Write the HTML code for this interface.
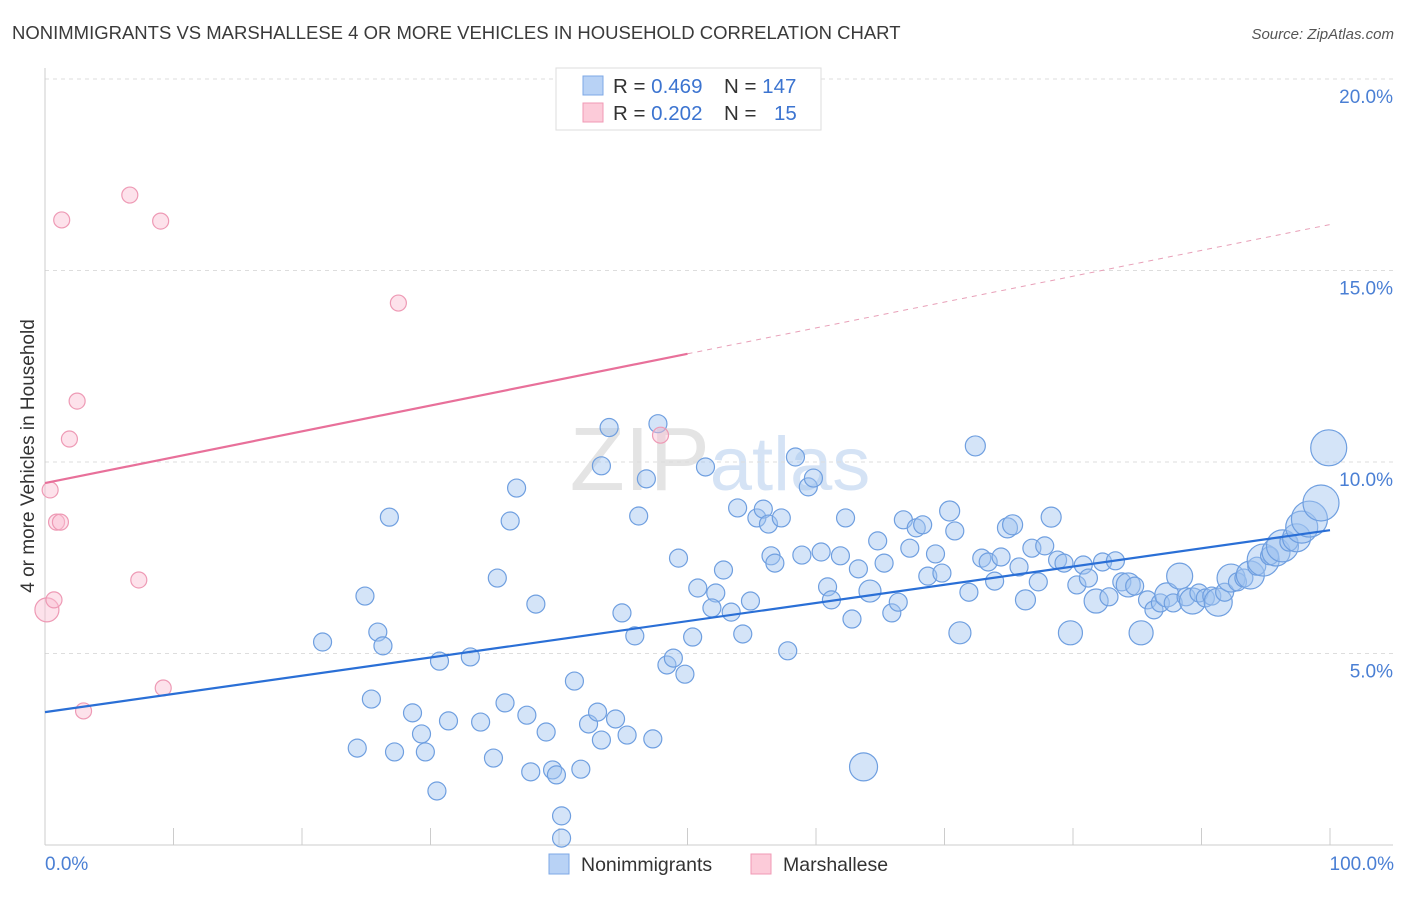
<!DOCTYPE html>
<html><head><meta charset="utf-8"><style>
body{margin:0;background:#fff;font-family:"Liberation Sans",sans-serif}
svg text{font-family:"Liberation Sans",sans-serif}
</style></head><body>
<svg id="chart" width="1406" height="892" viewBox="0 0 1406 892">
<text x="12" y="39" font-size="18.5" fill="#3a3a3a">NONIMMIGRANTS VS MARSHALLESE 4 OR MORE VEHICLES IN HOUSEHOLD CORRELATION CHART</text>
<text x="1394" y="39" font-size="15" fill="#555" font-style="italic" text-anchor="end">Source: ZipAtlas.com</text>
<text x="720" y="490" font-size="90" fill="#e4e4e4" text-anchor="middle" font-family="Liberation Serif">ZIP<tspan fill="#d5e3f5" font-family="Liberation Sans" font-size="76">atlas</tspan></text>
<g id="grid"></g><g id="axes"></g><g id="marks"></g>
<text transform="translate(34,456) rotate(-90)" font-size="19" fill="#333" text-anchor="middle">4 or more Vehicles in Household</text>
<text x="45" y="870" font-size="19" fill="#4a7fd4">0.0%</text>
<text x="1394" y="870" font-size="19" fill="#4a7fd4" text-anchor="end">100.0%</text>
<g>
<rect x="556" y="68" width="265" height="62" fill="#fff" stroke="#ddd"/>
<rect x="583" y="76" width="20" height="19" fill="#b8d2f5" stroke="#7ea8e6"/>
<rect x="583" y="103" width="20" height="19" fill="#fccbd9" stroke="#f09ab5"/>
<text x="613" y="93" font-size="20.5" fill="#333">R = <tspan fill="#3c74d0">0.469</tspan><tspan x="724">N = </tspan><tspan fill="#3c74d0">147</tspan></text>
<text x="613" y="120" font-size="20.5" fill="#333">R = <tspan fill="#3c74d0">0.202</tspan><tspan x="724">N = </tspan><tspan fill="#3c74d0" x="774">15</tspan></text>
</g>
<g>
<rect x="549" y="854" width="20" height="20" fill="#b8d2f5" stroke="#7ea8e6"/>
<text x="581" y="871" font-size="19.5" fill="#333">Nonimmigrants</text>
<rect x="751" y="854" width="20" height="20" fill="#fccbd9" stroke="#f09ab5"/>
<text x="783" y="871" font-size="19.5" fill="#333">Marshallese</text>
</g>
</svg>
<script>
const yTicks=[5,10,15,20];
const yTickLabels=["5.0%","10.0%","15.0%","20.0%"];
const blueX=[21.6,24.3,24.9,25.4,25.9,26.3,26.8,27.2,28.6,29.3,29.6,30.5,30.7,31.4,33.1,33.9,34.9,35.2,35.8,36.2,36.7,37.5,37.8,38.2,39.0,39.5,39.8,40.2,40.2,41.2,41.7,42.3,43.0,43.3,43.3,43.9,44.4,44.9,45.3,45.9,46.2,46.8,47.3,47.7,48.4,48.9,49.3,49.8,50.4,50.8,51.4,52.2,51.9,52.8,53.4,53.9,54.3,54.9,55.4,55.9,56.3,56.5,56.8,57.3,57.8,58.4,58.9,59.4,59.8,60.4,60.9,61.2,61.9,62.3,62.8,63.3,63.7,64.2,64.8,65.3,65.9,66.4,66.8,67.3,67.8,68.3,68.7,69.3,69.8,70.4,70.8,71.2,71.9,72.4,72.9,73.4,73.9,74.4,74.9,75.3,75.8,76.3,76.8,77.3,77.8,78.3,78.8,79.3,79.8,80.3,80.8,81.2,81.8,82.3,82.8,83.3,83.8,84.3,84.8,85.3,85.8,86.3,86.8,87.3,87.8,88.3,88.8,89.3,89.8,90.3,90.8,91.3,91.8,92.3,92.8,93.3,93.8,94.3,94.8,95.3,95.8,96.3,96.8,97.4,97.8,98.4,99.3,99.9];
const blueY=[5.3,2.53,6.5,3.81,5.56,5.2,8.56,2.43,3.45,2.9,2.43,1.41,4.8,3.24,4.91,3.21,2.27,6.97,3.71,8.46,9.32,3.39,1.91,6.29,2.95,1.96,1.83,0.76,0.18,4.28,1.98,3.16,3.47,2.74,9.9,10.9,3.29,6.06,2.87,5.46,8.59,9.56,2.77,11.0,4.7,4.88,7.49,4.46,5.43,6.71,9.87,6.58,6.19,7.18,6.08,8.8,5.51,6.37,8.54,8.77,8.38,7.55,7.36,8.54,5.07,10.13,7.57,9.35,9.58,7.65,6.74,6.4,7.55,8.54,5.9,7.21,2.04,6.63,7.94,7.36,6.06,6.34,8.49,7.75,8.28,8.36,7.02,7.6,7.1,8.72,8.2,5.54,6.6,10.42,7.49,7.39,6.89,7.52,8.28,8.36,7.26,6.4,7.75,6.87,7.81,8.56,7.44,7.36,5.54,6.79,7.31,6.97,6.37,7.39,6.48,7.42,6.87,6.79,6.76,5.54,6.4,6.14,6.32,6.53,6.32,7.02,6.48,6.37,6.58,6.45,6.5,6.34,6.6,6.97,6.87,6.97,7.05,7.28,7.44,7.55,7.65,7.81,7.91,8.02,8.3,8.51,8.93,10.37];
const blueSize=[9,9,9,9,9,9,9,9,9,9,9,9,9,9,9,9,9,9,9,9,9,9,9,9,9,9,9,9,9,9,9,9,9,9,9,9,9,9,9,9,9,9,9,9,9,9,9,9,9,9,9,9,9,9,9,9,9,9,9,9,9,9,9,9,9,9,9,9,9,9,9,9,9,9,9,9,14,11,9,9,9,9,9,9,9,9,9,9,9,10,9,11,9,10,9,9,9,9,10,10,9,10,9,9,9,10,9,9,12,9,9,9,12,9,9,9,9,12,9,12,9,9,9,12,9,13,9,13,9,9,9,14,9,14,9,9,14,9,16,9,14,16,9,14,16,18,18,18];
const pinkX=[0.15,0.4,0.7,0.9,1.2,1.3,1.9,2.5,3.0,6.6,7.3,9.0,9.2,27.5,47.9];
const pinkY=[6.14,9.27,6.4,8.43,8.43,16.32,10.6,11.59,3.5,16.97,6.92,16.29,4.1,14.15,10.7];
const pinkSize=[12,8,8,8,8,8,8,8,8,8,8,8,8,8,8];
const blueTrend=[3.47,8.22];
const pinkTrend=[9.45,16.2];
const pinkSolidEnd=50;

const X=v=>45+v*12.85, Y=v=>845-v*38.3;
const NS='http://www.w3.org/2000/svg';
function mk(tag,attrs,parent){const e=document.createElementNS(NS,tag);for(const k in attrs)e.setAttribute(k,attrs[k]);document.getElementById(parent).appendChild(e);return e;}
yTicks.forEach((t,i)=>{
 const g=mk('line',{x1:45,x2:1393,y1:Y(t),y2:Y(t),stroke:'#ddd','stroke-dasharray':'4,4'},'grid');
 
 
 const tx=mk('text',{x:1393,y:Y(t)+24,'font-size':19,fill:'#4a7fd4','text-anchor':'end'},'grid');
 tx.textContent=yTickLabels[i];
 
 
});
const ax=mk('line',{x1:45,x2:45,y1:68,y2:845,stroke:'#ccc'},'axes');


const bx=mk('line',{x1:45,x2:1393,y1:845,y2:845,stroke:'#ccc'},'axes');


for(let i=1;i<=10;i++){
 const t=mk('line',{x1:X(i*10),x2:X(i*10),y1:828,y2:845,stroke:'#ccc'},'axes');
 
 
}
blueX.forEach((v,i)=>{
 const c=mk('circle',{cx:X(v),cy:Y(blueY[i]),r:blueSize[i],fill:'rgba(160,195,240,0.45)',stroke:'#6f9fe0','stroke-width':1.2},'marks');
 
 
});
pinkX.forEach((v,i)=>{
 const c=mk('circle',{cx:X(v),cy:Y(pinkY[i]),r:pinkSize[i],fill:'rgba(250,190,210,0.45)',stroke:'#ee9ab5','stroke-width':1.2},'marks');
 
 
});
const bl=mk('line',{x1:X(0),y1:Y(blueTrend[0]),x2:X(100),y2:Y(blueTrend[1]),stroke:'#2a6fd6','stroke-width':2.2},'marks');


const pm=pinkTrend[0]+(pinkTrend[1]-pinkTrend[0])*pinkSolidEnd/100;
const pl=mk('line',{x1:X(0),y1:Y(pinkTrend[0]),x2:X(pinkSolidEnd),y2:Y(pm),stroke:'#e8709a','stroke-width':2.2},'marks');


const pd=mk('line',{x1:X(pinkSolidEnd),y1:Y(pm),x2:X(100),y2:Y(pinkTrend[1]),stroke:'#e8a0b8','stroke-width':1,'stroke-dasharray':'5,5'},'marks');


</script>
</body></html>
